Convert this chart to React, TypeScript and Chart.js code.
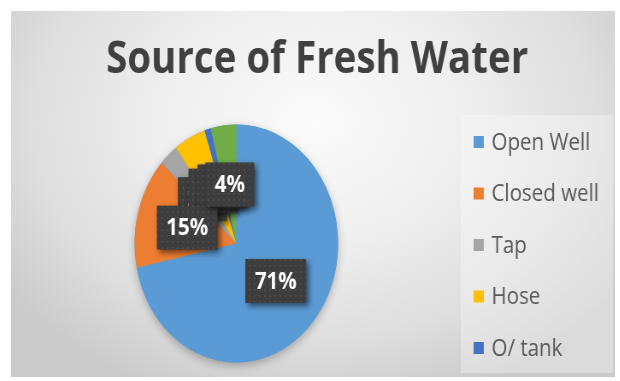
import React, { useEffect, useRef } from "react";
import { Chart, registerables } from "chart.js";

Chart.register(...registerables);

const titleText = "Source of Fresh Water";
const categories = ["Open Well", "Closed well", "Tap", "Hose", "O/ tank", "Other"];
const values = [71, 15, 3, 5, 1, 4];
const colors = ["#5B9BD5", "#ED7D31", "#A5A5A5", "#FFC000", "#4472C4", "#70AD47"];
const legendCount = 5;
const labelDrawOrder = [2, 3, 4, 0, 1, 5];

const SQUEEZE = 0.855;
const PANEL_W = 604;
const PANEL_H = 366;
const CANVAS_W = Math.round(PANEL_W / SQUEEZE);

const LEGEND_ROW = 51.5;
const LEGEND_FONT = "24px 'Open Sans'";

function makePattern(ctx: CanvasRenderingContext2D) {
  const c = document.createElement("canvas");
  c.width = 6;
  c.height = 6;
  const p = c.getContext("2d")!;
  p.fillStyle = "#3d3d3d";
  p.fillRect(0, 0, 6, 6);
  p.fillStyle = "#4b4b4b";
  p.fillRect(2, 2, 2, 2);
  return ctx.createPattern(c, "repeat");
}

const centeredTitle = {
  id: "centeredTitle",
  afterDraw(chart: any) {
    const ctx = chart.ctx as CanvasRenderingContext2D;
    ctx.save();
    ctx.font = "bold 45px 'Open Sans'";
    ctx.fillStyle = "#404040";
    ctx.textAlign = "center";
    ctx.textBaseline = "alphabetic";
    ctx.fillText(titleText, chart.width / 2 + 5, chart.chartArea.top - 37);
    ctx.restore();
  },
};

const sideLegend = {
  id: "sideLegend",
  beforeDraw(chart: any) {
    const ctx = chart.ctx as CanvasRenderingContext2D;
    const a = chart.chartArea;
    ctx.save();
    ctx.fillStyle = "rgba(255,255,255,0.32)";
    ctx.fillRect(a.right + 11, a.top + 5, chart.width - 2 - (a.right + 11), a.bottom - a.top - 9);
    ctx.restore();
  },
  afterDraw(chart: any) {
    const ctx = chart.ctx as CanvasRenderingContext2D;
    const a = chart.chartArea;
    const cy = (a.top + a.bottom) / 2 + 1.5;
    const x0 = a.right + 26;
    ctx.save();
    ctx.font = LEGEND_FONT;
    ctx.textBaseline = "middle";
    ctx.textAlign = "left";
    for (let i = 0; i < legendCount; i++) {
      const y = cy + (i - (legendCount - 1) / 2) * LEGEND_ROW;
      ctx.fillStyle = colors[i];
      ctx.fillRect(x0, y - 6, 12, 12);
      ctx.fillStyle = "#595959";
      ctx.fillText(categories[i], x0 + 21, y + 1);
    }
    ctx.restore();
  },
};

const pieShadow = {
  id: "pieShadow",
  beforeDatasetsDraw(chart: any) {
    const meta = chart.getDatasetMeta(0);
    const arc = meta.data[0];
    if (!arc) return;
    const { x, y, outerRadius } = arc.getProps(["x", "y", "outerRadius"], true);
    const ctx = chart.ctx;
    ctx.save();
    ctx.shadowColor = "rgba(0,0,0,0.28)";
    ctx.shadowBlur = 10;
    ctx.shadowOffsetY = 3;
    ctx.beginPath();
    ctx.arc(x, y, outerRadius, 0, Math.PI * 2);
    ctx.fillStyle = colors[0];
    ctx.fill();
    ctx.restore();
  },
};

const boxLabels = {
  id: "boxLabels",
  afterDatasetsDraw(chart: any) {
    const ctx = chart.ctx as CanvasRenderingContext2D;
    const meta = chart.getDatasetMeta(0);
    const pattern = makePattern(ctx);
    labelDrawOrder.forEach((i) => {
      const arc = meta.data[i];
      if (!arc) return;
      const { x, y, startAngle, endAngle, outerRadius } = arc.getProps(
        ["x", "y", "startAngle", "endAngle", "outerRadius"],
        true
      );
      const mid = (startAngle + endAngle) / 2;
      const r = outerRadius * 0.5;
      const cx = x + Math.cos(mid) * r;
      const cy = y + Math.sin(mid) * r;
      const text = values[i] + "%";
      ctx.save();
      ctx.font = "bold 24px 'Open Sans'";
      const tw = ctx.measureText(text).width;
      const w = tw + 22;
      const h = 44;
      ctx.shadowColor = "rgba(0,0,0,0.55)";
      ctx.shadowBlur = 6;
      ctx.shadowOffsetX = 3;
      ctx.shadowOffsetY = 3;
      ctx.fillStyle = pattern || "#3d3d3d";
      ctx.fillRect(cx - w / 2, cy - h / 2, w, h);
      ctx.shadowColor = "transparent";
      ctx.fillStyle = "#ffffff";
      ctx.textAlign = "center";
      ctx.textBaseline = "middle";
      ctx.fillText(text, cx, cy + 1);
      ctx.restore();
    });
  },
};

export default function App() {
  const ref = useRef<HTMLCanvasElement>(null);
  useEffect(() => {
    if (!ref.current) return;
    const chart = new Chart(ref.current, {
      type: "pie",
      data: {
        labels: categories,
        datasets: [
          {
            data: values,
            backgroundColor: colors,
            borderWidth: 0,
            radius: 119,
          },
        ],
      },
      options: {
        responsive: false,
        animation: false,
        layout: { padding: { left: 12, right: 191, top: 99, bottom: 0 } },
        plugins: {
          title: { display: false },
          legend: { display: false },
          tooltip: { enabled: false },
        },
      },
      plugins: [sideLegend, pieShadow, boxLabels, centeredTitle],
    });
    return () => chart.destroy();
  }, []);

  return (
    <div
      style={{
        position: "absolute",
        left: 0,
        top: 0,
        width: 620,
        height: 381,
        background: "#ffffff",
        overflow: "hidden",
      }}
    >
      <div
        style={{
          position: "absolute",
          left: 11,
          top: 11,
          width: PANEL_W,
          height: PANEL_H,
          overflow: "hidden",
          background:
            "radial-gradient(ellipse 62% 80% at 50% 30%, #fbfbfb 0%, #efefef 40%, #dedede 75%, #cbcbcb 100%)",
        }}
      >
        <canvas
          ref={ref}
          width={CANVAS_W}
          height={PANEL_H}
          style={{
            width: CANVAS_W,
            height: PANEL_H,
            transform: `scaleX(${SQUEEZE})`,
            transformOrigin: "0 0",
            display: "block",
          }}
        />
      </div>
    </div>
  );
}
